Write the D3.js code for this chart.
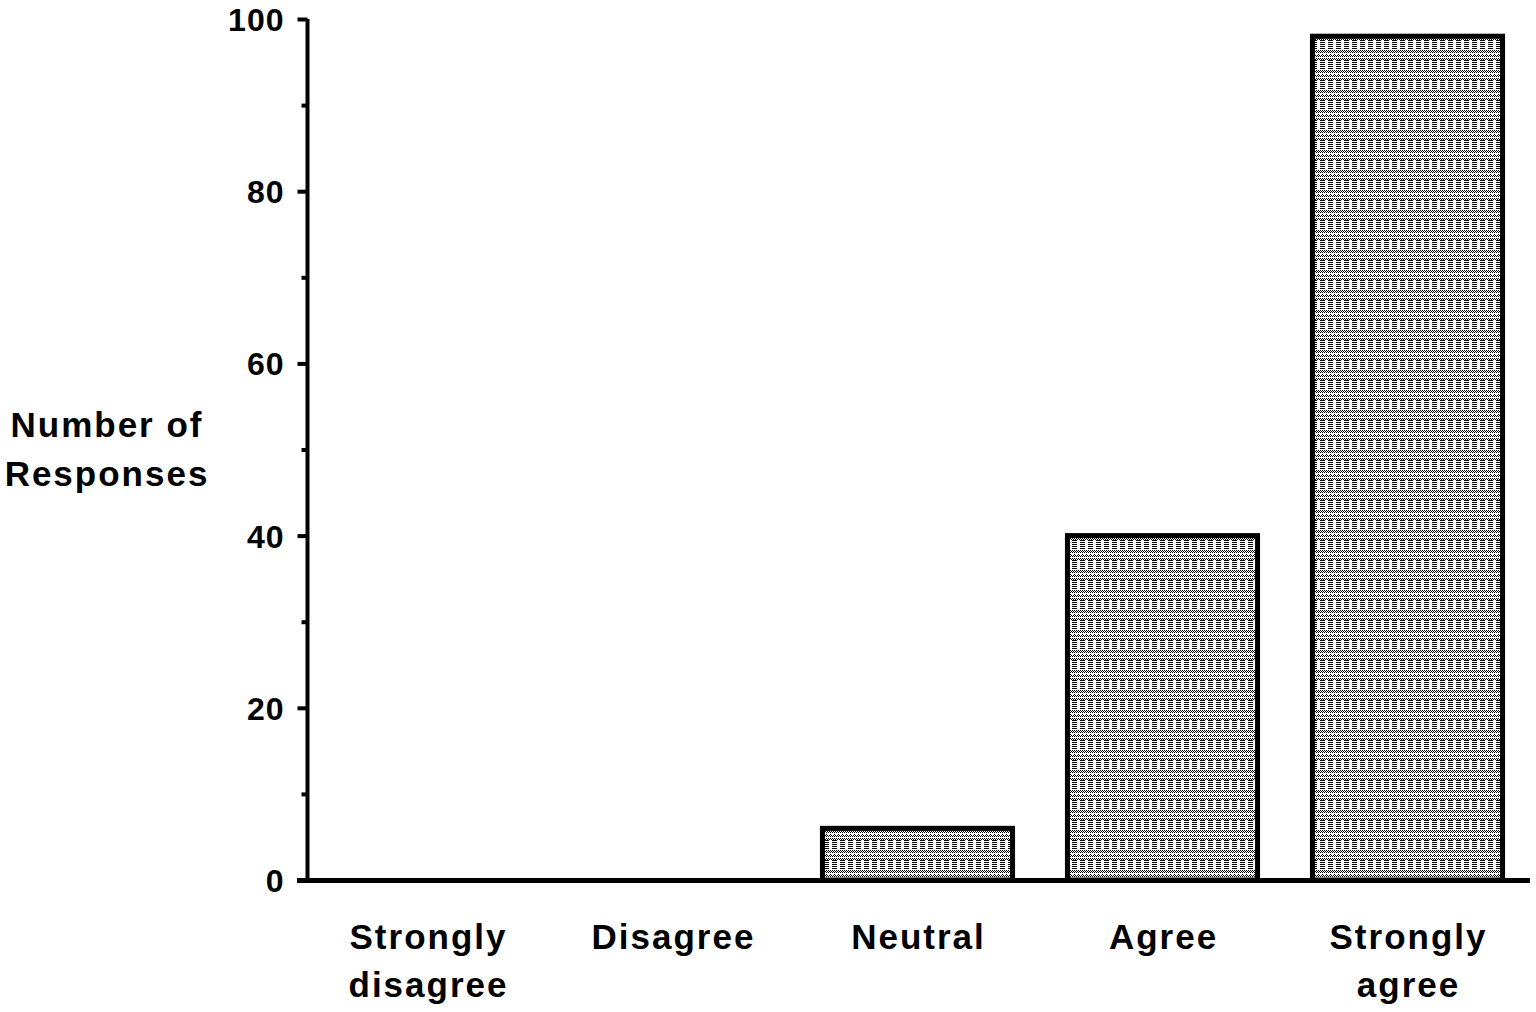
<!DOCTYPE html>
<html><head><meta charset="utf-8">
<script src="https://cdn.jsdelivr.net/npm/d3@7"></script>
<style>body{margin:0;background:#fff}svg{display:block}text{font-family:"Liberation Sans",Arial,sans-serif;font-weight:bold;fill:#000}</style>
</head><body>
<script>
const categories = ["Strongly disagree","Disagree","Neutral","Agree","Strongly agree"];
const categoryLines = [["Strongly","disagree"],["Disagree"],["Neutral"],["Agree"],["Strongly","agree"]];
const values = [0,0,6,40,98];
const yTicks = [0,20,40,60,80,100];
const yMinorTicks = [10,30,50,70,90];

const W=1536,H=1012;
const svg=d3.select("body").append("svg").attr("width",W).attr("height",H);
const defs=svg.append("defs");
const PW=16,PH=20;
const pat=defs.append("pattern").attr("id","pat").attr("patternUnits","userSpaceOnUse").attr("width",PW).attr("height",PH);
pat.append("rect").attr("width",PW).attr("height",PH).attr("fill","#fff");
let cells=[];
for(let r=0;r<PH;r++){for(let c=0;c<PW;c++){
  let on;
  if(r<10){ on = (r%2===0) && (c%8<5); }
  else { on = ((r+c)%2===0) && (r%4!==1) && !(r>=14&&r<=15&&c%4===0); }
  if(on) cells.push([c,r]);
}}
pat.selectAll("rect.px").data(cells).enter().append("rect").attr("class","px")
  .attr("x",d=>d[0]).attr("y",d=>d[1]).attr("width",1).attr("height",1).attr("fill","#000").attr("shape-rendering","crispEdges");

const x=d3.scaleBand().domain(categories).range([305,1530]).paddingInner(0.224).paddingOuter(0.112);
const y=d3.scaleLinear().domain([0,100]).range([880,19]);

// bars
svg.selectAll("rect.bar").data(values.map((v,i)=>({c:categories[i],v})).filter(d=>d.v>0)).enter().append("rect")
  .attr("class","bar").attr("x",d=>x(d.c)).attr("width",x.bandwidth())
  .attr("y",d=>y(d.v)).attr("height",d=>y(0)-y(d.v))
  .attr("fill","url(#pat)").attr("stroke","#000").attr("stroke-width",5);

// y axis
const yAxis=d3.axisLeft(y).tickValues(yTicks).tickSize(10).tickPadding(13).tickFormat(d3.format("d"));
const gy=svg.append("g").attr("transform","translate(307.5,0)").call(yAxis);
gy.attr("font-size",null).attr("font-family",null);
gy.select(".domain").attr("stroke","#000").attr("stroke-width",4).attr("d","M0,"+y(100)+"V"+(y(0)+2));
gy.selectAll(".tick line").attr("stroke-width",4);
gy.selectAll(".tick text").style("font-size","32px").style("letter-spacing","1px").attr("dy","0.36em");
const minor=svg.append("g").attr("transform","translate(307.5,0)").call(d3.axisLeft(y).tickValues(yMinorTicks).tickSize(6).tickFormat(""));
minor.select(".domain").remove();
minor.selectAll(".tick line").attr("stroke-width",4);

// x axis
svg.append("line").attr("x1",297).attr("x2",1530).attr("y1",y(0)+0.5).attr("y2",y(0)+0.5).attr("stroke","#000").attr("stroke-width",5);

// category labels
categories.forEach((c,i)=>{
  const t=svg.append("text").attr("x",x(c)+x.bandwidth()/2).attr("y",949).attr("text-anchor","middle").style("font-size","35px").style("letter-spacing","2px");
  categoryLines[i].forEach((l,j)=>t.append("tspan").attr("x",x(c)+x.bandwidth()/2+1).attr("dy",j?48:0).text(l));
});

// y title
const yt=svg.append("text").attr("text-anchor","middle").style("font-size","35px").style("letter-spacing","2px");
yt.append("tspan").attr("x",107).attr("y",437).text("Number of");
yt.append("tspan").attr("x",107).attr("y",486).text("Responses");
</script>
</body></html>
